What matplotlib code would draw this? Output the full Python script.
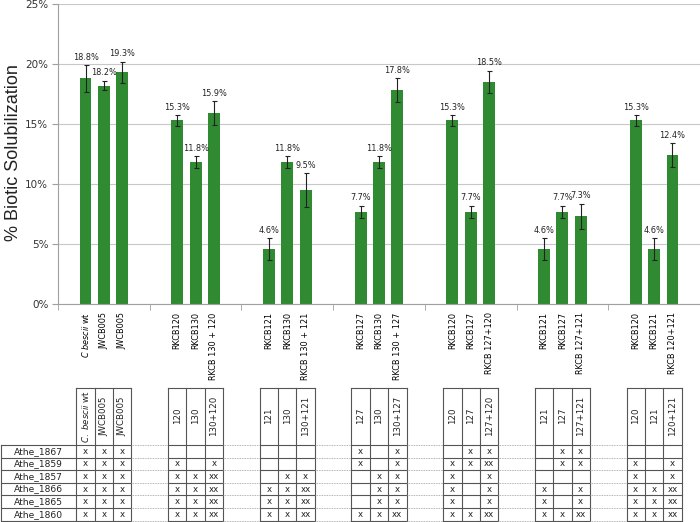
import numpy as np
import matplotlib
matplotlib.use("Agg")
import matplotlib.pyplot as plt

plt.rcParams.update({"font.family": "DejaVu Sans", "mathtext.fontset": "dejavusans"})

# ---------- data ----------
values = [18.8, 18.2, 19.3, 15.3, 11.8, 15.9, 4.6, 11.8, 9.5, 7.7, 11.8, 17.8,
          15.3, 7.7, 18.5, 4.6, 7.7, 7.3, 15.3, 4.6, 12.4]
errors = [1.1, 0.4, 0.9, 0.45, 0.5, 1.0, 0.9, 0.5, 1.4, 0.5, 0.5, 1.0,
          0.45, 0.5, 0.95, 0.9, 0.5, 1.05, 0.45, 0.9, 1.0]
strain_labels = [r"$\it{C\ bescii}$ wt", "JWCB005", "JWCB005",
                 "RKCB120", "RKCB130", "RKCB 130 + 120",
                 "RKCB121", "RKCB130", "RKCB 130 + 121",
                 "RKCB127", "RKCB130", "RKCB 130 + 127",
                 "RKCB120", "RKCB127", "RKCB 127+120",
                 "RKCB121", "RKCB127", "RKCB 127+121",
                 "RKCB120", "RKCB121", "RKCB 120+121"]
header_labels = [r"$\it{C.\ bescii}$ wt", "JWCB005", "JWCB005",
                 "120", "130", "130+120", "121", "130", "130+121",
                 "127", "130", "130+127", "120", "127", "127+120",
                 "121", "127", "127+121", "120", "121", "120+121"]
row_names = ["Athe_1867", "Athe_1859", "Athe_1857", "Athe_1866", "Athe_1865", "Athe_1860"]
marks = [
    ["x", "x", "x", "x", "x", "x"], ["x", "x", "x", "x", "x", "x"], ["x", "x", "x", "x", "x", "x"],
    ["", "x", "x", "x", "x", "x"], ["", "", "x", "x", "x", "x"], ["", "x", "xx", "xx", "xx", "xx"],
    ["", "", "", "x", "x", "x"], ["", "", "x", "x", "x", "x"], ["", "", "x", "xx", "xx", "xx"],
    ["x", "x", "", "", "", "x"], ["", "", "x", "x", "x", "x"], ["x", "x", "x", "x", "x", "xx"],
    ["", "x", "x", "x", "x", "x"], ["x", "x", "", "", "", "x"], ["x", "xx", "x", "x", "x", "xx"],
    ["", "", "", "x", "x", "x"], ["x", "x", "", "", "", "x"], ["x", "x", "", "x", "x", "xx"],
    ["", "x", "x", "x", "x", "x"], ["", "", "", "x", "x", "x"], ["", "x", "x", "xx", "xx", "xx"],
]

n_groups = 7
pos = np.array([g + (k - 1) * 0.2 for g in range(n_groups) for k in range(3)])
GREEN = "#2f8a31"
LINE = "#555555"

fig = plt.figure(figsize=(7, 5.22), dpi=100)

# ---------- bar chart ----------
ax = fig.add_axes([58 / 700, 218 / 522, 642 / 700, 300 / 522])
ax.bar(pos, values, width=0.13, color=GREEN, zorder=2)
ax.errorbar(pos, values, yerr=errors, fmt="none", ecolor="#222222", elinewidth=0.8,
            capsize=1.8, capthick=0.8, zorder=3)
for x, v, e in zip(pos, values, errors):
    ax.annotate(f"{v:.1f}%", (x, v + e), xytext=(0, 2.5), textcoords="offset points",
                ha="center", va="bottom", fontsize=5.9, color="#222222")
ax.set_xlim(-0.5, n_groups - 0.5)
ax.set_ylim(0, 25)
ax.set_yticks(range(0, 26, 5))
ax.set_yticklabels([f"{t}%" for t in range(0, 26, 5)], fontsize=7.5, color="#333333")
ax.yaxis.grid(True, color="#c8c8c8", linewidth=0.8, zorder=0)
ax.set_axisbelow(True)
ax.set_xticks(pos)
ax.set_xticklabels(strain_labels, rotation=90, fontsize=5.9, va="top")
ax.set_xticks(np.arange(-0.5, n_groups, 1.0), minor=True)
ax.tick_params(axis="x", which="major", length=0, pad=6)
ax.tick_params(axis="x", which="minor", length=4, color="#a0a0a0")
ax.tick_params(axis="y", length=4, color="#a0a0a0", pad=3)
for s in ["top", "right"]:
    ax.spines[s].set_visible(False)
for s in ["left", "bottom"]:
    ax.spines[s].set_color("#a0a0a0")
fig.text(14 / 700, (522 - 153) / 522, "% Biotic Solubilization", rotation=90,
         ha="center", va="center", fontsize=13, family="Liberation Sans", color="#222222")

# ---------- genotype table ----------
tab = fig.add_axes([0, 0, 1, 135 / 522])
unit = 642 / 7
tab.set_xlim(-0.5 - 58 / unit, n_groups - 0.5)
tab.set_ylim(135, 0)
tab.axis("off")
head_h = 58
row_h = 12.6
row_y = head_h + row_h * np.arange(len(row_names) + 1)
kw = dict(color=LINE, linewidth=0.8, clip_on=False)

for g in range(n_groups):
    left, right = g - 0.3, g + 0.3
    for xv in [g - 0.3, g - 0.1, g + 0.1, g + 0.3]:
        tab.plot([xv, xv], [0.5, row_y[-1]], **kw)
    tab.plot([left, right], [0.5, 0.5], **kw)
    for yv in row_y:
        tab.plot([left, right], [yv, yv], **kw)
    if g < n_groups - 1:
        for yv in row_y:
            tab.plot([right, g + 0.7], [yv, yv], color="#9a9a9a", linewidth=0.6,
                     linestyle=(0, (1, 1)))

for c, x in enumerate(pos):
    tab.text(x, head_h / 2, header_labels[c], rotation=90, ha="center", va="center",
             fontsize=6.2, color="#222222")
    for r, m in enumerate(marks[c]):
        if m:
            tab.text(x, row_y[r] + row_h / 2, m, ha="center", va="center",
                     fontsize=6.2, color="#222222")

x0 = -0.5 - 57.5 / unit
tab.plot([x0, x0], [row_y[0], row_y[-1]], **kw)
for yv in row_y:
    tab.plot([x0, -0.3], [yv, yv], **kw)
for r, name in enumerate(row_names):
    tab.text((x0 - 0.3) / 2, row_y[r] + row_h / 2, name, ha="center", va="center",
             fontsize=6.6, color="#222222")

fig.savefig("out.png", dpi=100)
